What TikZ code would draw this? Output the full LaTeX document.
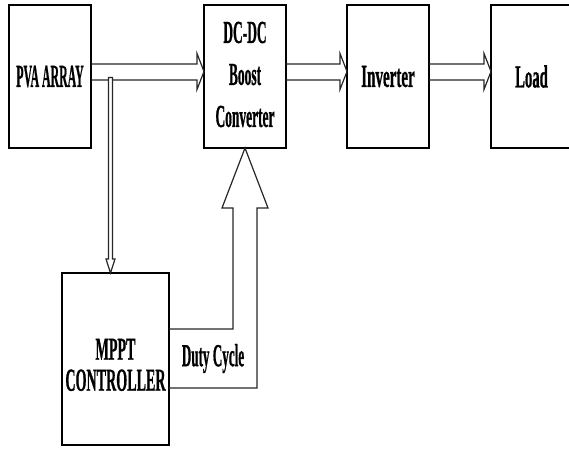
\documentclass[tikz,border=0pt]{standalone}
\usepackage{fontspec}
\setmainfont{Liberation Serif}[BoldFeatures={FakeBold=1.2}]
\usetikzlibrary{calc}
\newcommand\hollowlink[2]{%
  \draw[hollow] ($(#1.east)+(0,-12.5)$) -- ($(#2.west)+(-7,-12.5)$) -- ($(#2.west)+(-7,-23)$)
    -- ($(#2.west)+(0,-5)$) -- ($(#2.west)+(-7,13)$) -- ($(#2.west)+(-7,3.5)$) -- ($(#1.east)+(0,3.5)$);}
\begin{document}
\begin{tikzpicture}[x=1pt,y=-1pt,
  blk/.style={draw=black,line width=1.5pt,inner sep=0pt,outer sep=0pt,
    minimum width=82pt,minimum height=143pt,font=\fontsize{32}{42}\selectfont\bfseries},
  txt/.style={inner sep=0pt,font=\fontsize{32}{31}\selectfont\bfseries},
  hollow/.style={draw=black!85,line width=1.2pt,line join=miter}]
\useasboundingbox (0,0) rectangle (569,449);
\node[blk] (pva) at (50,76.5) {\scalebox{0.37}[1]{PVA ARRAY}};
\node[blk] (dc) at (245,76.5) {\scalebox{0.42}[1]{\begin{tabular}{@{}c@{}}DC-DC\\Boost\\Converter\end{tabular}}};
\node[blk] (inv) at (388,76.5) {\scalebox{0.47}[1]{Inverter}};
\node[blk,minimum width=81pt] (load) at (531.5,76.5) {\scalebox{0.46}[1]{Load}};
\node[blk,minimum width=107pt,minimum height=172pt] (mppt) at (115.5,359) {};
\node[txt] (mpptlbl) at (115.5,369) {\scalebox{0.44}[1]{\begin{tabular}{@{}c@{}}MPPT\\CONTROLLER\end{tabular}}};
\node[txt] (duty) at (213,358.5) {\scalebox{0.41}[1]{Duty Cycle}};
\hollowlink{pva}{dc}
\hollowlink{dc}{inv}
\hollowlink{inv}{load}
\coordinate (tap) at (110.5,77.5);
\draw[hollow,fill=white] ($(tap)+(-2,0)$) -- ($(mppt.north)+(-7,-14)$) -- ($(mppt.north)+(-9.5,-14)$)
  -- ($(mppt.north)+(-5,0)$) -- ($(mppt.north)+(-0.5,-14)$) -- ($(mppt.north)+(-3,-14)$)
  -- ($(tap)+(2,0)$) -- cycle;
\draw[hollow] ($(mppt.east)+(0,-30)$) -| ($(dc.south)+(-12,60)$) -- ($(dc.south)+(-23,60)$)
  -- (dc.south) -- ($(dc.south)+(23,60)$) -- ($(dc.south)+(12,60)$) |- ($(mppt.east)+(0,29)$);
\end{tikzpicture}
\end{document}
